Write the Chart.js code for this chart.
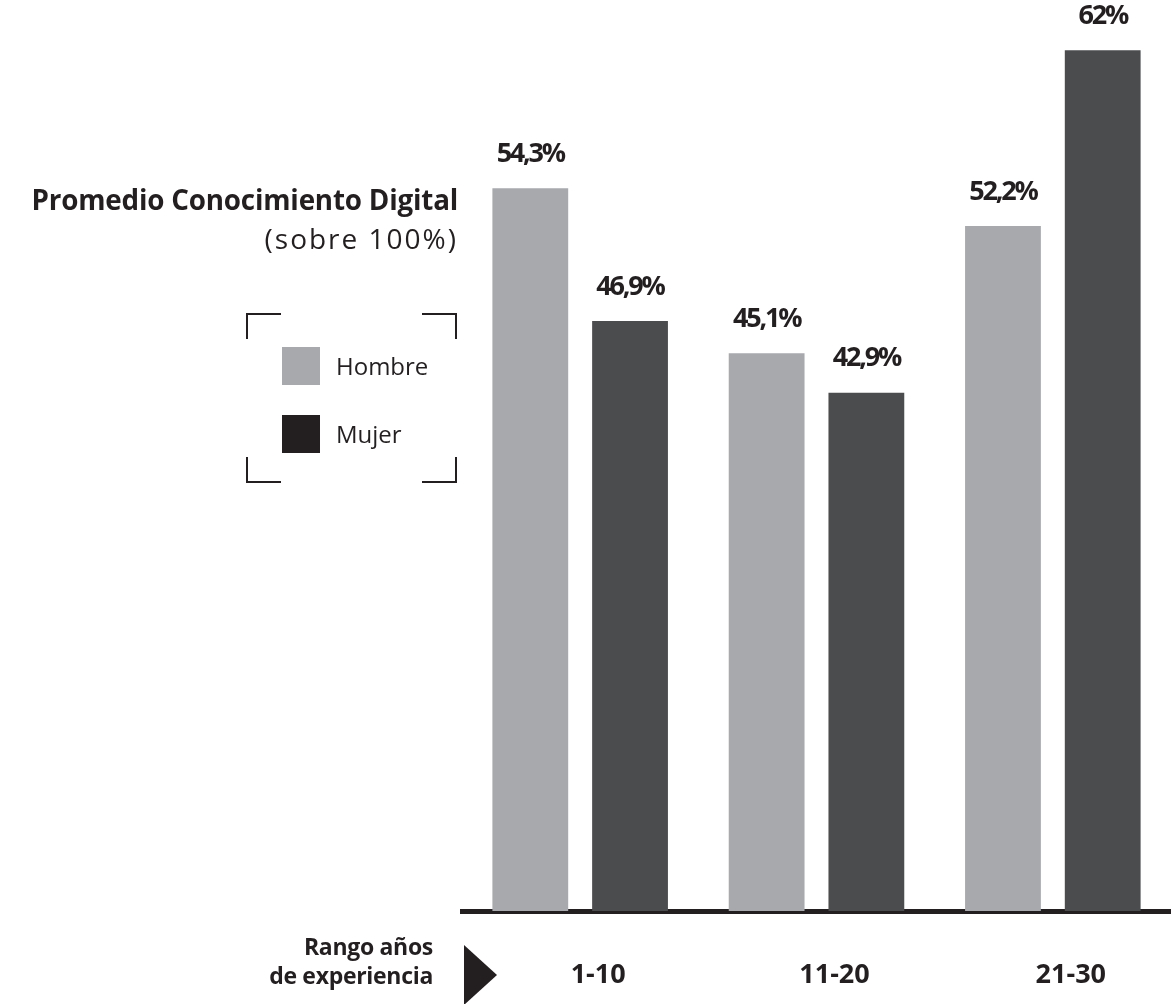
<!DOCTYPE html>
<html>
<head>
<meta charset="utf-8">
<script src="https://cdn.jsdelivr.net/npm/chart.js@4.4.1/dist/chart.umd.min.js"></script>
<style>
    body { margin: 0; background: #fff; font-family: 'Open Sans', sans-serif; color: #231f20; }
    #wrap { position: relative; width: 1171px; height: 1004px; overflow: hidden; }
    #barChart { position: absolute; left: 0; top: 0; }
    .title { position: absolute; right: 713px; top: 180px; font-weight: bold; font-size: 27.8px; white-space: nowrap; letter-spacing: -0.2px; }
    .subtitle { position: absolute; right: 713px; top: 219px; font-size: 28px; white-space: nowrap; letter-spacing: 2px; }
    #legend { position: absolute; left: 246px; top: 313px; width: 211px; height: 170px; }
    .corner { position: absolute; width: 33px; height: 24px; border-color: #231f20; border-style: solid; border-width: 0; }
    .tl { left: 0; top: 0; border-left-width: 2px; border-top-width: 2px; }
    .tr { right: 0; top: 0; border-right-width: 2px; border-top-width: 2px; }
    .bl { left: 0; bottom: 0; border-left-width: 2px; border-bottom-width: 2px; }
    .br { right: 0; bottom: 0; border-right-width: 2px; border-bottom-width: 2px; }
    .item { position: absolute; left: 36px; height: 38px; }
    .item span.box { position: absolute; left: 0; top: 0; width: 38px; height: 38px; }
    .item span.lbl { position: absolute; left: 54px; top: 2px; font-size: 24px; white-space: nowrap; }
    .axisTitle { position: absolute; right: 738px; top: 932px; font-weight: bold; font-size: 23px; line-height: 29px; text-align: right; white-space: nowrap; letter-spacing: -0.3px; }
    #arrow { position: absolute; left: 464px; top: 945px; width: 0; height: 0; border-top: 30px solid transparent; border-bottom: 30px solid transparent; border-left: 33px solid #231f20; }
</style>
</head>
<body>
<div id="wrap">
    <canvas id="barChart" width="1171" height="1004"></canvas>
    <div class="title">Promedio Conocimiento Digital</div>
    <div class="subtitle">(sobre 100%)</div>
    <div id="legend"></div>
    <div class="axisTitle">Rango años<br>de experiencia</div>
    <div id="arrow"></div>
</div>
<script>
// chart data
var categories = ['1-10', '11-20', '21-30'];
var seriesNames = ['Hombre', 'Mujer'];
var hombre = [54.3, 45.1, 52.2];
var mujer = [46.9, 42.9, 62];
var valueLabels = [['54,3%', '45,1%', '52,2%'], ['46,9%', '42,9%', '62%']];

var barColors = ['#a7a9ac', '#4b4c4e'];
var legendColors = ['#a7a9ac', '#231f20'];

// values printed above each bar
var valueLabelPlugin = {
    id: 'valueLabels',
    afterDatasetsDraw: function(chart) {
        var ctx = chart.ctx;
        ctx.save();
        ctx.font = 'bold 27px "Open Sans"';
        ctx.letterSpacing = '-2.2px';
        ctx.fillStyle = '#231f20';
        ctx.textAlign = 'center';
        ctx.textBaseline = 'middle';
        chart.data.datasets.forEach(function(ds, i) {
            chart.getDatasetMeta(i).data.forEach(function(bar, j) {
                ctx.fillText(valueLabels[i][j], bar.x, bar.y - 34);
            });
        });
        ctx.restore();
    }
};

var barChartCanvas = document.getElementById('barChart').getContext('2d');
var myChart = new Chart(barChartCanvas, {
    type: 'bar',
    data: {
        labels: categories,
        datasets: [
            { label: seriesNames[0], data: hombre, backgroundColor: barColors[0] },
            { label: seriesNames[1], data: mujer, backgroundColor: barColors[1] }
        ]
    },
    options: {
        responsive: false,
        animation: false,
        categoryPercentage: 0.844,
        barPercentage: 0.76,
        layout: { padding: { left: 462, right: 0, top: 0, bottom: 0 } },
        plugins: { legend: { display: false }, tooltip: { enabled: false } },
        scales: {
            x: {
                grid: { display: false, drawTicks: false },
                border: { display: true, color: '#231f20', width: 5 },
                ticks: { color: '#231f20', font: { family: 'Open Sans', size: 27, weight: 'bold' }, padding: 48, labelOffset: 18 },
                //fixed axis height so the baseline sits where the picture has it
                afterFit: function(scale) { scale.height = 93; }
            },
            y: {
                display: false,
                min: 14,
                max: 64.8
            }
        }
    },
    plugins: [valueLabelPlugin]
});

// legend with corner brackets
var legendHtml = '<div class="corner tl"></div><div class="corner tr"></div><div class="corner bl"></div><div class="corner br"></div>';
for (var i = 0; i < seriesNames.length; i++) {
    legendHtml += '<div class="item" style="top:' + (34 + i * 68) + 'px"><span class="box" style="background:' + legendColors[i] + '"></span><span class="lbl">' + seriesNames[i] + '</span></div>';
}
document.getElementById('legend').innerHTML = legendHtml;
</script>
</body>
</html>
